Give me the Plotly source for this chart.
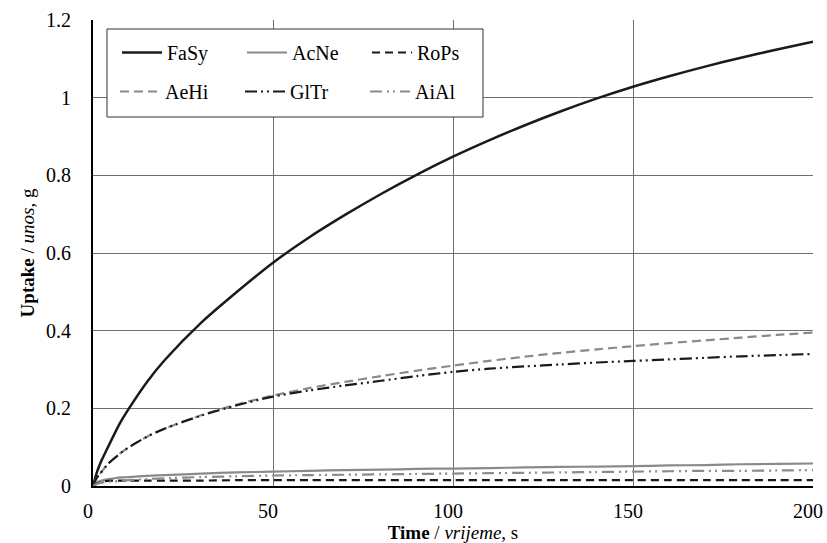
import plotly.graph_objects as go

time_s = [0, 1, 2, 4, 6, 8, 10, 15, 20, 30, 40, 50, 60, 70, 80, 90, 100,
          110, 120, 130, 140, 150, 160, 170, 180, 190, 200]

fasy = [0, 0.033, 0.058, 0.097, 0.135, 0.17, 0.20, 0.268, 0.325, 0.42, 0.50, 0.575, 0.64, 0.698,
        0.752, 0.802, 0.848, 0.89, 0.929, 0.965, 0.998, 1.028, 1.055, 1.08, 1.103, 1.124, 1.144]
acne = [0, 0.009, 0.013, 0.017, 0.020, 0.022, 0.023, 0.026, 0.028, 0.032, 0.035, 0.037, 0.039, 0.041,
        0.042, 0.044, 0.045, 0.046, 0.048, 0.049, 0.050, 0.051, 0.053, 0.054, 0.056, 0.057, 0.058]
rops = [0, 0.006, 0.010, 0.013, 0.014, 0.014, 0.014, 0.014, 0.014, 0.014, 0.015, 0.015, 0.015, 0.015,
        0.015, 0.015, 0.015, 0.015, 0.015, 0.015, 0.015, 0.015, 0.015, 0.015, 0.015, 0.015, 0.015]
aehi = [0, 0.02, 0.032, 0.055, 0.072, 0.087, 0.10, 0.127, 0.148, 0.182, 0.21, 0.233, 0.252, 0.268,
        0.283, 0.297, 0.31, 0.322, 0.333, 0.343, 0.352, 0.36, 0.368, 0.375, 0.382, 0.389, 0.395]
gltr = [0, 0.02, 0.032, 0.055, 0.072, 0.087, 0.10, 0.127, 0.148, 0.181, 0.208, 0.23, 0.246, 0.259,
        0.271, 0.283, 0.294, 0.302, 0.308, 0.313, 0.318, 0.322, 0.326, 0.330, 0.334, 0.337, 0.340]
aial = [0, 0.005, 0.008, 0.011, 0.012, 0.014, 0.015, 0.018, 0.020, 0.023, 0.025, 0.027, 0.028, 0.029,
        0.030, 0.031, 0.032, 0.033, 0.034, 0.035, 0.036, 0.037, 0.038, 0.039, 0.039, 0.040, 0.041]

series_names = ["FaSy", "AcNe", "RoPs", "AeHi", "GlTr", "AiAl"]
series_values = [fasy, acne, rops, aehi, gltr, aial]
series_colors = ["#1a1a1a", "#8a8a8a", "#1a1a1a", "#8a8a8a", "#1a1a1a", "#8a8a8a"]
series_dash = ["solid", "solid", "8px,5px", "9px,5px",
               "12px,4px,2px,4px,2px,4px", "12px,5px,2px,4px,2px,5px"]
series_width = [2.5, 2.2, 2.2, 2.2, 2.2, 2.2]
series_legend = ["legend", "legend", "legend", "legend2", "legend2", "legend2"]

FONT = "Liberation Serif"

fig = go.Figure()
for name, vals, col, dash, w, lg in zip(series_names, series_values, series_colors,
                                        series_dash, series_width, series_legend):
    fig.add_trace(go.Scatter(x=time_s, y=vals, mode="lines", name=name,
                             line=dict(color=col, dash=dash, width=w, shape="spline", smoothing=0.8),
                             legend=lg))

W, H = 827, 543
L, T = 93, 20
R, B = 827 - 813, 543 - 486
pw, ph = W - L - R, H - T - B

def px_x(p):
    return (p - L) / pw

def px_y(p):
    return (H - B - p) / ph

legend_common = dict(orientation="h", bgcolor="rgba(0,0,0,0)", borderwidth=0,
                     font=dict(family=FONT, size=20, color="black"),
                     itemwidth=40, entrywidth=70, entrywidthmode="pixels",
                     xanchor="left", yanchor="top", tracegroupgap=0)

fig.update_layout(
    width=W, height=H,
    margin=dict(l=L, r=R, t=T, b=B, autoexpand=False),
    paper_bgcolor="white", plot_bgcolor="white",
    font=dict(family=FONT, size=20, color="black"),
    legend=dict(x=px_x(117), y=px_y(33), **legend_common),
    legend2=dict(x=px_x(115), y=px_y(72), **legend_common),
    shapes=[dict(type="rect", xref="paper", yref="paper",
                 x0=px_x(107), x1=px_x(483), y0=px_y(117), y1=px_y(29),
                 fillcolor="white", line=dict(color="#333333", width=1), layer="above")],
)

fig.update_xaxes(range=[0, 200], dtick=50, tick0=0, automargin=False,
                 showgrid=True, gridcolor="#6e6e6e", gridwidth=1,
                 showline=True, linecolor="black", linewidth=2, zeroline=False,
                 ticks="", ticklabelstandoff=6, ticklabeloverflow="allow", ticklabelshift=-5,
                 tickfont=dict(family=FONT, size=20, color="black"),
                 title=dict(text="<b>Time</b> / <i>vrijeme</i>, s",
                            font=dict(family=FONT, size=19, color="black"), standoff=2))
fig.update_yaxes(range=[0, 1.2], dtick=0.2, tick0=0, automargin=False,
                 showgrid=True, gridcolor="#6e6e6e", gridwidth=1,
                 showline=True, linecolor="black", linewidth=2, zeroline=False,
                 ticks="", ticklabelstandoff=16, ticklabeloverflow="allow",
                 tickfont=dict(family=FONT, size=20, color="black"),
                 title=dict(text="<b>Uptake</b> / <i>unos</i>, g",
                            font=dict(family=FONT, size=19, color="black"), standoff=6))

fig.write_html("out.html", config={"displayModeBar": False},
               post_script="document.body.style.margin='0';document.body.style.overflow='hidden';")
